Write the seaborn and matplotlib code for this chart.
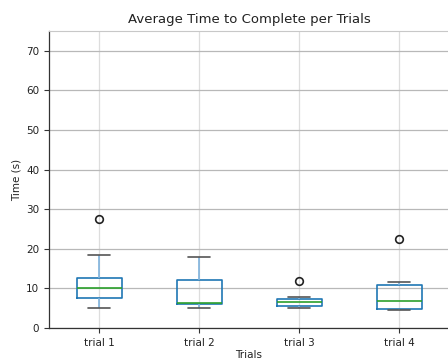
import matplotlib
matplotlib.use("Agg")
import matplotlib.pyplot as plt
import seaborn as sns
import pandas as pd

# Data (estimated sample values per trial, seconds)
trial_names = ["trial 1", "trial 2", "trial 3", "trial 4"]
trial_1 = [5.1, 6.5, 7.6, 8.8, 10.0, 11.5, 12.7, 18.4, 27.4]
trial_2 = [5.1, 5.6, 6.15, 6.2, 6.3, 9.0, 12.1, 15.0, 17.9]
trial_3 = [5.0, 5.2, 5.5, 6.0, 6.5, 7.0, 7.3, 7.8, 11.9]
trial_4 = [4.5, 4.7, 4.9, 5.5, 6.7, 9.0, 10.9, 11.5, 22.5]
y_ticks = [0, 10, 20, 30, 40, 50, 60, 70]

df = pd.DataFrame({
    "Trials": sum([[n] * len(v) for n, v in zip(trial_names, [trial_1, trial_2, trial_3, trial_4])], []),
    "Time": trial_1 + trial_2 + trial_3 + trial_4,
})

sns.set_style("white")
plt.rcParams["font.family"] = ["DejaVu Sans"]

fig = plt.figure(figsize=(4.48, 3.63), dpi=100)
ax = fig.add_axes([49 / 448, 1 - 328 / 363, 400 / 448, 297 / 363])

blue = "#1f77b4"
sns.boxplot(
    data=df, x="Trials", y="Time", order=trial_names, ax=ax,
    fill=False, color=blue, saturation=1, width=0.45, linewidth=1.2,
    whis=1.5,
    boxprops=dict(color=blue),
    whiskerprops=dict(color="#7fb2dc"),
    capprops=dict(color="#555555"),
    medianprops=dict(color="#2ca02c"),
    flierprops=dict(marker="o", markerfacecolor="none", markeredgecolor="#222222",
                    markersize=5.5, markeredgewidth=1.2),
)

ax.set_ylim(0, 75)
ax.set_xlim(-0.5, 3.5)
ax.set_yticks(y_ticks)
ax.yaxis.grid(True, color="#b8b8b8", linewidth=0.9)
ax.xaxis.grid(True, color="#dddddd", linewidth=0.9)
ax.set_axisbelow(True)
ax.tick_params(axis="both", labelsize=7.5, length=3.5, width=0.8, color="#333333",
               left=True, bottom=True, labelcolor="#222222")
for s in ["left", "bottom"]:
    ax.spines[s].set_color("#333333")
    ax.spines[s].set_linewidth(0.9)
ax.spines["top"].set_color("#c8c8c8")
ax.spines["right"].set_visible(False)

ax.set_title("Average Time to Complete per Trials", fontsize=9.5, color="#222222", pad=6)
ax.set_xlabel("Trials", fontsize=7.5, color="#222222", labelpad=2)
ax.set_ylabel("Time (s)", fontsize=7.5, color="#222222", labelpad=3)

fig.savefig("out.png", dpi=100)
